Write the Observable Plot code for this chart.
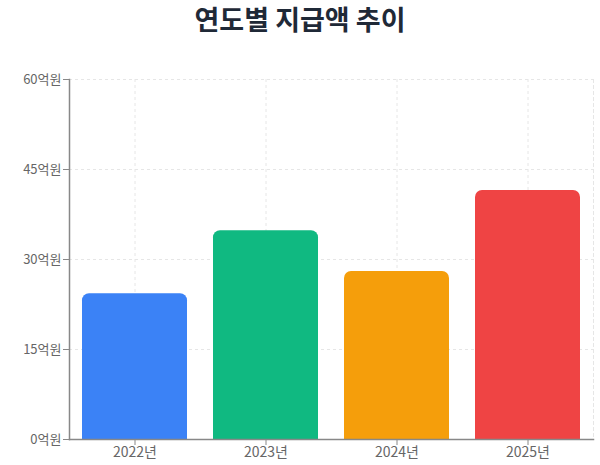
<!DOCTYPE html>
<html>
<head>
<meta charset="utf-8">
<script src="https://cdn.jsdelivr.net/npm/d3@7"></script>
<script src="https://cdn.jsdelivr.net/npm/@observablehq/plot@0.6"></script>
<style>
  body { margin: 0; background: #fff; font-family: "Noto Sans CJK KR", "Noto Sans", sans-serif; }
  #title { height: 44px; margin: 0; padding-top: 2px; box-sizing: border-box; text-align: center;
           font-size: 27px; font-weight: 700; color: #1f2937; line-height: 34px; }
</style>
</head>
<body>
<div id="title">연도별 지급액 추이</div>
<div id="chart"></div>
<script>
const years = ["2022년", "2023년", "2024년", "2025년"];
const amounts = [24.3, 34.8, 28.0, 41.5];
const colors = ["#3b82f6", "#10b981", "#f59e0b", "#ef4444"];
const yTicks = [0, 15, 30, 45, 60];

const data = years.map((year, i) => ({ year, amount: amounts[i] }));

const chart = Plot.plot({
  width: 600,
  height: 421,
  marginTop: 35,
  marginBottom: 26,
  marginLeft: 69,
  marginRight: 7,
  style: { fontFamily: "'Noto Sans CJK KR', 'Noto Sans', sans-serif", fontSize: "13px", color: "#666" },
  x: { domain: years, paddingInner: 0.2, paddingOuter: 0.1, label: null },
  y: { domain: [0, 60], ticks: yTicks, label: null, tickFormat: d => d + "억원" },
  color: { domain: years, range: colors },
  marks: [
    Plot.gridY(yTicks.filter(d => d > 0), { stroke: "#e6e6e6", strokeOpacity: 1, strokeDasharray: "3,3" }),
    Plot.gridX({ stroke: "#e6e6e6", strokeOpacity: 1, strokeDasharray: "3,3" }),
    Plot.frame({ anchor: "right", stroke: "#e6e6e6", strokeDasharray: "3,3" }),
    Plot.barY(data, { x: "year", y: "amount", fill: "year", ry1: 7 }),
    Plot.axisY({ ticks: yTicks, tickFormat: d => d + "억원", tickSize: 6, tickPadding: 2, stroke: "#888", fill: "#666", fontSize: 13 }),
    Plot.axisX({ tickSize: 6, tickPadding: 2, stroke: "#888", fill: "#666", fontSize: 14 }),
    Plot.frame({ anchor: "left", stroke: "#888", strokeWidth: 1.5 }),
    Plot.frame({ anchor: "bottom", stroke: "#888", strokeWidth: 1.5 })
  ]
});
document.getElementById("chart").appendChild(chart);
</script>
</body>
</html>
